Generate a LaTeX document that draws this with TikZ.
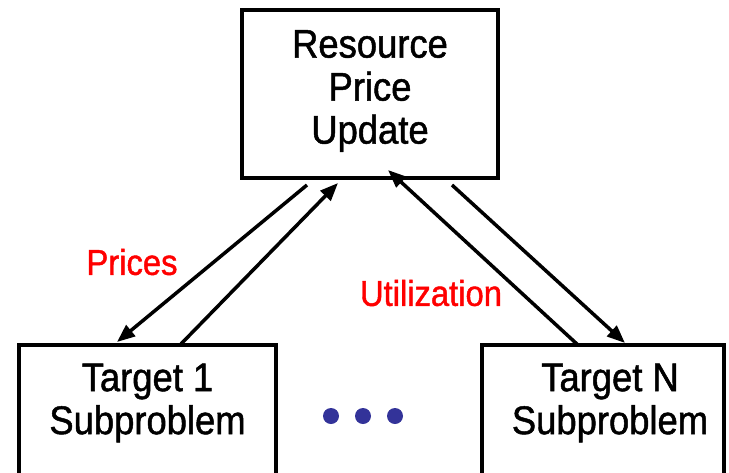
\documentclass[tikz,border=0pt]{standalone}
\usepackage{fontspec}
\setmainfont{Liberation Sans}
\newfontfamily\heavyfont{Liberation Sans}[FakeBold=1.2,FakeStretch=0.91]
\usetikzlibrary{arrows.meta}
\definecolor{dotblue}{HTML}{333399}
\begin{document}
\begin{tikzpicture}[x=1pt,y=-1pt,
  boxnode/.style={draw=black,line width=4pt,fill=white,inner sep=0pt},
  txt/.style={align=center,font=\heavyfont\fontsize{40}{43}\selectfont,inner sep=0pt},
  lbl/.style={text=red,font=\heavyfont\fontsize{36}{38}\selectfont,inner sep=0pt},
  conn/.style={line width=3.5pt,-{Triangle[length=18pt,width=14pt]}},
  dotnode/.style={circle,fill=dotblue,minimum size=16pt,inner sep=0pt}]
\useasboundingbox (0,0) rectangle (729,472);
\clip (0,0) rectangle (729,472);
% boxes
\node[boxnode,minimum width=256pt,minimum height=168pt] (top) at (370,94) {};
\node[boxnode,minimum width=257pt,minimum height=180pt] (t1) at (147.5,435) {};
\node[boxnode,minimum width=242pt,minimum height=180pt] (tn) at (603,435) {};
% texts
\node[txt] (toptext) at (370,91) {Resource\\Price\\Update};
\node[txt] (t1text) at (147.5,403) {Target 1\\Subproblem};
\node[txt] (tntext) at (610,403) {Target N\\Subproblem};
% labels
\node[lbl] (prices) at (132,262) {Prices};
\node[lbl] (util) at (431,293) {Utilization};
% arrow end points
\coordinate (a1s) at (307,185);
\coordinate (a1e) at (117,342);
\coordinate (a2s) at (180,345);
\coordinate (a2e) at (338,183);
\coordinate (a3s) at (578,345);
\coordinate (a3e) at (388,170);
\coordinate (a4s) at (452,185);
\coordinate (a4e) at (625,343);
\draw[conn] (a1s) -- (a1e);
\draw[conn] (a2s) -- (a2e);
\draw[conn] (a3s) -- (a3e);
\draw[conn] (a4s) -- (a4e);
% dots
\node[dotnode] (d1) at (331,416) {};
\node[dotnode] (d2) at (363,416) {};
\node[dotnode] (d3) at (395,416) {};
\end{tikzpicture}
\end{document}
